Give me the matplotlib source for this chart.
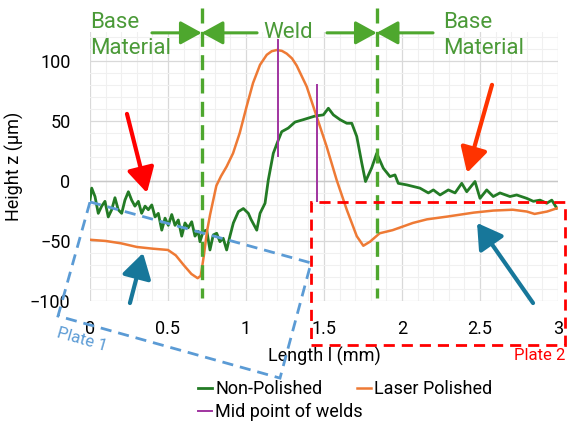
import matplotlib.pyplot as plt
import numpy as np
from matplotlib.ticker import MultipleLocator, FormatStrFormatter
from matplotlib.patches import Polygon, Rectangle

plt.rcParams['font.family'] = ['Roboto', 'DejaVu Sans']

# Non-polished surface profile (length in mm, height in um)
length_np = [0.000, 0.011, 0.032, 0.053, 0.075, 0.096, 0.117, 0.139, 0.160, 0.181,
             0.203, 0.224, 0.246, 0.267, 0.288, 0.310, 0.331, 0.353, 0.374, 0.396,
             0.417, 0.438, 0.460, 0.481, 0.502, 0.524, 0.545, 0.566, 0.588, 0.609,
             0.630, 0.652, 0.673, 0.694, 0.705, 0.726, 0.748, 0.769, 0.790, 0.812,
             0.833, 0.854, 0.876, 0.897, 0.919, 0.951, 0.983, 1.015, 1.032, 1.069,
             1.090, 1.122, 1.143, 1.175, 1.207, 1.229, 1.271, 1.314, 1.367, 1.442,
             1.496, 1.528, 1.560, 1.603, 1.646, 1.678, 1.710, 1.742, 1.766, 1.806,
             1.838, 1.880, 1.923, 1.955, 1.976, 2.030, 2.115, 2.169, 2.201, 2.244,
             2.297, 2.340, 2.383, 2.415, 2.468, 2.500, 2.543, 2.585, 2.628, 2.692,
             2.735, 2.799, 2.842, 2.885, 2.928, 2.960, 2.992]
height_np = [-16, -6, -13, -27, -21, -17, -30, -24, -14, -24,
             -27, -16, -9, -16, -21, -17, -27, -21, -24, -20,
             -30, -27, -41, -31, -37, -28, -37, -32.5, -46, -35,
             -39, -34, -46, -42, -50.6, -42, -41, -57.5, -45, -43.6,
             -50.6, -47.8, -57.5, -46, -35, -25.6, -23, -27, -32, -41,
             -27, -18.6, 0.8, 23, 34, 41, 44, 49, 51, 54,
             55, 60.5, 55, 51, 48, 48, 37, 15, -0.5, 11,
             23, 10.6, 3.6, 5, -2, -3.3, -6, -10, -7.5, -11.7,
             -7.5, -10, -2, -9, -0.5, -14.5, -7.5, -13, -10, -13,
             -11.7, -14.5, -17, -16, -18.6, -16, -22.7]

# Laser polished surface profile
length_lp = [0, 0.1, 0.2, 0.3, 0.4, 0.5, 0.55, 0.6, 0.65, 0.69,
             0.71, 0.73, 0.75, 0.77, 0.81, 0.84, 0.876, 0.917, 0.96, 1.004,
             1.045, 1.09, 1.133, 1.165, 1.197, 1.23, 1.261, 1.295, 1.325, 1.389,
             1.453, 1.517, 1.581, 1.646, 1.71, 1.752, 1.795, 1.857, 1.94, 2.07,
             2.16, 2.29, 2.46, 2.585, 2.71, 2.80, 2.85, 2.93, 3.0]
height_lp = [-49, -50, -52, -55, -56.4, -57.5, -62, -70, -77.5, -81,
             -79, -62, -42, -28, -4, 4, 12, 23, 40, 62,
             81.5, 96.7, 105, 108, 109, 108.3, 106, 102, 96, 78.6,
             53.6, 28.6, 0.8, -24, -46, -54, -50.6, -43.6, -41, -35,
             -32, -29.7, -26.4, -24.7, -24, -25.5, -27.5, -25.5, -22.5]

# Mid point of each weld, drawn as vertical markers
mid_length = [1.203, 1.203, np.nan, 1.457, 1.457]
mid_height = [21, 117, np.nan, -17, 80]

# Boundaries between base material and weld zone
weld_edges = [0.716, 1.838]

green = '#4EA72E'
fig = plt.figure(figsize=(5.67, 4.21), dpi=100)
ax = fig.add_axes([90 / 567, 1 - 301 / 421, 468 / 567, 269 / 421])

l_np, = ax.plot(length_np, height_np, color='#237B25', lw=2, label='Non-Polished', zorder=3)
l_lp, = ax.plot(length_lp, height_lp, color='#EE7A35', lw=1.8, label='Laser Polished', zorder=3)
l_mid, = ax.plot(mid_length, mid_height, color='#A034A0', lw=1.4,
                 label='Mid point of welds', zorder=4)

ax.set_xlim(0, 3)
ax.set_ylim(-100, 124)
ax.xaxis.set_major_locator(MultipleLocator(0.5))
ax.xaxis.set_minor_locator(MultipleLocator(0.1))
ax.yaxis.set_major_locator(MultipleLocator(50))
ax.yaxis.set_minor_locator(MultipleLocator(10))
ax.xaxis.set_major_formatter(FormatStrFormatter('%g'))
ax.grid(which='major', color='#D9D9D9', lw=0.9)
ax.grid(which='minor', color='#F0F0F0', lw=0.8)
ax.axhline(0, color='#C8C8C8', lw=1, zorder=1)
ax.set_axisbelow(True)
for s in ax.spines.values():
    s.set_visible(False)
ax.tick_params(which='both', length=0, labelsize=13)
ax.tick_params(axis='x', pad=14)
ax.tick_params(axis='y', pad=14)
ax.set_xlabel('Length l (mm)', fontsize=13, labelpad=6)
ax.set_ylabel('Height z (µm)', fontsize=13, labelpad=4)

# weld zone boundaries and labels above the plot
for xe in weld_edges:
    ax.plot([xe, xe], [144, -97.5], color=green, lw=2.4, ls=(0, (4.5, 2.5)),
            clip_on=False, zorder=5)

def arrow(tail, tip, color, lw, ms, hl, hw):
    ax.annotate('', xy=tip, xytext=tail, annotation_clip=False,
                arrowprops=dict(arrowstyle=f'-|>,head_length={hl},head_width={hw}',
                                color=color, lw=lw, mutation_scale=ms,
                                shrinkA=0, shrinkB=0), zorder=6)

zt = 123.3
arrow((0.397, zt), (weld_edges[0], zt), green, 2.2, 13, 1.0, 0.55)
arrow((1.071, zt), (weld_edges[0], zt), green, 2.2, 13, 1.0, 0.55)
arrow((1.519, zt), (weld_edges[1], zt), green, 2.2, 13, 1.0, 0.55)
arrow((2.199, zt), (weld_edges[1], zt), green, 2.2, 13, 1.0, 0.55)

txt_green = '#4B9A38'
ax.text(0.0, 141, 'Base\nMaterial', color=txt_green, fontsize=16, va='top',
        ha='left', linespacing=1.35)
ax.text(2.263, 141, 'Base\nMaterial', color=txt_green, fontsize=16, va='top',
        ha='left', linespacing=1.35)
ax.text(1.27, zt, 'Weld', color=txt_green, fontsize=16, va='center', ha='center')

# arrows pointing at the base material roughness
arrow((0.237, 55.8), (0.365, -10), '#FF0000', 3, 15, 1.0, 0.55)
arrow((2.577, 80), (2.417, 6.7), '#FF3300', 3, 15, 1.0, 0.55)
arrow((0.256, -101.7), (0.340, -60), '#17779A', 3, 15, 1.0, 0.6)
arrow((2.84, -101.7), (2.481, -35), '#17779A', 3, 15, 1.0, 0.6)

# plate outlines
plate1 = Polygon([(0, -17.5), (1.417, -68.3), (1.218, -164.2), (-0.205, -112.5)],
                 closed=True, fill=False, ec='#5B9BD5', lw=2, ls=(0, (4, 2.5)),
                 clip_on=False, zorder=5)
ax.add_patch(plate1)
plate2 = Rectangle((1.417, -136.7), 1.628, 119.2, fill=False, ec='#FF0000', lw=2,
                   ls=(0, (4, 2.5)), clip_on=False, zorder=5)
ax.add_patch(plate2)
ax.text(-0.051, -132.5, 'Plate 1', color='#5B9BD5', fontsize=12, rotation=-16,
        ha='center', va='center')
ax.text(3.045, -145, 'Plate 2', color='#FF0000', fontsize=12, ha='right', va='center')

# legend: two entries on the first row, the mid point marker below
leg_kw = dict(loc='upper left', frameon=False, fontsize=13, handlelength=0.8,
              handletextpad=0.15, borderpad=0, borderaxespad=0)
fig.legend(handles=[l_np, l_lp], ncol=2, columnspacing=1.9,
           bbox_to_anchor=(198 / 567, 1 - 380 / 421), **leg_kw)
fig.legend(handles=[l_mid], bbox_to_anchor=(198 / 567, 1 - 403 / 421), **leg_kw)

fig.savefig('out.png', dpi=100)
